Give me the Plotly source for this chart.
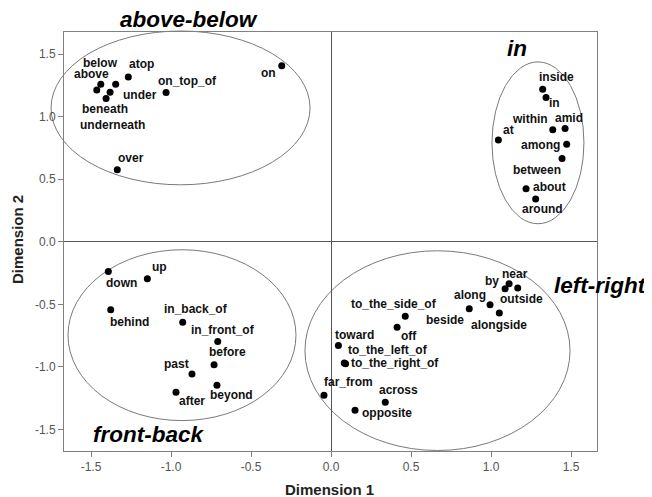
import plotly.graph_objects as go

# ---- data ----
labels = ["on", "atop", "on_top_of", "below", "above", "under", "beneath", "underneath", "over",
          "inside", "in", "within", "amid", "at", "among", "between", "about", "around",
          "down", "up", "behind", "in_back_of", "in_front_of", "before", "past", "beyond", "after",
          "by", "near", "outside", "along", "beside", "alongside", "to_the_side_of", "off",
          "toward", "to_the_left_of", "to_the_right_of", "far_from", "across", "opposite"]
dim1 = [-0.308, -1.267, -1.031, -1.439, -1.464, -1.346, -1.381, -1.406, -1.336,
        1.323, 1.344, 1.386, 1.463, 1.046, 1.473, 1.444, 1.219, 1.279,
        -1.392, -1.148, -1.377, -0.927, -0.708, -0.731, -0.869, -0.713, -0.969,
        1.088, 1.113, 1.167, 0.994, 0.864, 1.052, 0.464, 0.413,
        0.046, 0.083, 0.091, -0.044, 0.339, 0.150]
dim2 = [1.407, 1.317, 1.192, 1.259, 1.213, 1.259, 1.195, 1.144, 0.575,
        1.219, 1.152, 0.894, 0.904, 0.814, 0.780, 0.665, 0.423, 0.341,
        -0.237, -0.295, -0.543, -0.644, -0.798, -0.982, -1.056, -1.147, -1.203,
        -0.375, -0.335, -0.370, -0.503, -0.535, -0.569, -0.596, -0.684,
        -0.830, -0.968, -0.974, -1.227, -1.283, -1.346]

tick_vals = [-1.5, -1.0, -0.5, 0.0, 0.5, 1.0, 1.5]
tick_text = ["-1.5", "-1.0", "-0.5", "0.0", "0.5", "1.0", "1.5"]

group_names = ["above-below", "in", "front-back", "left-right"]

# ---- layout / styling (positions, not data) ----
X_RANGE = [-1.669, 1.6625]
Y_RANGE = [-1.672, 1.676]

# label offsets in pixels (dx, dy upward)
label_offsets = {
    "on": (-13, -7), "atop": (13, 13), "on_top_of": (21, 12), "below": (0, 21),
    "above": (-5, 16), "under": (24, -11), "beneath": (-5, -17), "underneath": (6, -26),
    "over": (14, 12),
    "inside": (14, 12), "in": (8, -5), "within": (-23, 11), "amid": (4, 11), "at": (10, 10),
    "among": (-26, -1), "between": (-25, -11), "about": (23, 2), "around": (7, -10),
    "down": (13, -12), "up": (12, 12), "behind": (19, -12), "in_back_of": (13, 13),
    "in_front_of": (5, 12), "before": (13, 13), "past": (-15, 10), "beyond": (15, -10),
    "after": (16, -9),
    "by": (-13, 8), "near": (6, 10), "outside": (4, -11), "along": (-20, 10),
    "beside": (-24, -11), "alongside": (0, -12), "to_the_side_of": (-11, 12),
    "off": (12, -9), "toward": (16, 11), "to_the_left_of": (44, 13),
    "to_the_right_of": (49, 1), "far_from": (25, 13), "across": (13, 12),
    "opposite": (32, -3),
}

# ellipse extents in data units: (x0, x1, y0, y1)
ellipses = [(-1.75, -0.131, 0.455, 1.684),
            (1.006, 1.581, 0.144, 1.437),
            (-1.644, -0.219, -1.429, -0.064),
            (-0.163, 1.494, -1.668, -0.072)]
# group label positions in paper units, with anchors
group_pos = [(0.234, 1.030, "center"), (0.850, 0.961, "center"),
             (0.1585, 0.039, "center"), (1.097, 0.395, "right")]

FONT = "Arial, Liberation Sans, sans-serif"

fig = go.Figure()
fig.add_trace(go.Scatter(
    x=dim1, y=dim2, mode="markers",
    marker=dict(color="black", size=7),
    hoverinfo="text", text=labels, showlegend=False,
))


def to_dom(v, r):
    return (v - r[0]) / (r[1] - r[0])


shapes = []
for (x0, x1, y0, y1) in ellipses:
    shapes.append(dict(type="circle", xref="x domain", yref="y domain",
                       x0=to_dom(x0, X_RANGE), x1=to_dom(x1, X_RANGE),
                       y0=to_dom(y0, Y_RANGE), y1=to_dom(y1, Y_RANGE),
                       line=dict(color="#7a7a7a", width=1), layer="below"))

annotations = []
for lab, xv, yv in zip(labels, dim1, dim2):
    dx, dy = label_offsets[lab]
    annotations.append(dict(x=xv, y=yv, xref="x", yref="y", text=lab, showarrow=False,
                            xshift=dx, yshift=dy,
                            font=dict(family=FONT, size=12, color="#111111", weight="bold")))
for name, (gx, gy, anc) in zip(group_names, group_pos):
    annotations.append(dict(x=gx, y=gy, xref="paper", yref="paper", text=name, showarrow=False,
                            xanchor=anc, yanchor="middle",
                            font=dict(family=FONT, size=22.5, color="black",
                                      weight="bold", style="italic")))

annotations.append(dict(x=0.499, y=-0.093, xref="paper", yref="paper", text="Dimension 1",
                        showarrow=False, yanchor="middle",
                        font=dict(family=FONT, size=15, color="#222222", weight="bold")))
annotations.append(dict(x=-0.0863, y=0.5036, xref="paper", yref="paper", text="Dimension 2",
                        showarrow=False, textangle=-90, xanchor="center", yanchor="middle",
                        font=dict(family=FONT, size=15, color="#222222", weight="bold")))

axis_common = dict(
    showgrid=False, showline=True, mirror=True, linecolor="#808080", linewidth=1,
    ticks="outside", ticklen=5, tickcolor="#808080", tickwidth=1,
    tickvals=tick_vals, ticktext=tick_text,
    tickfont=dict(family=FONT, size=12, color="#555555"),
    zeroline=True, zerolinecolor="#555555", zerolinewidth=1,
)

# page body has an 8px margin, so the figure is 8px smaller and offset
fig.update_layout(
    width=644, height=489,
    margin=dict(l=56, r=55, t=24, b=46),
    paper_bgcolor="white", plot_bgcolor="white",
    xaxis=dict(range=X_RANGE, **axis_common),
    yaxis=dict(range=Y_RANGE, **axis_common),
    shapes=shapes, annotations=annotations,
)

fig.write_html("out.html")
